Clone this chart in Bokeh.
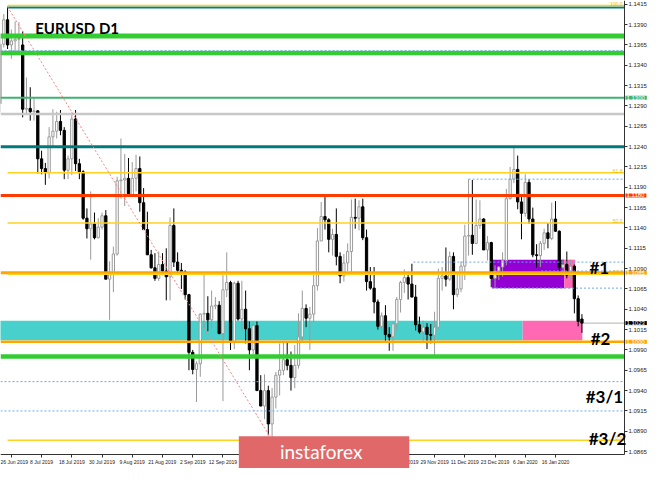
import numpy as np
from bokeh.plotting import figure
from bokeh.models import (Range1d, FixedTicker, PrintfTickFormatter, Label, ColumnDataSource,
                          BoxAnnotation)
from bokeh.embed import file_html
from bokeh.resources import INLINE

# ---------------- data ----------------
# daily bars, first bar = 21 Jun 2019 (bar index -3), bar 0 = 26 Jun 2019, last = 27 Jan 2020
opens = [
    1.1293, 1.1366, 1.1396,
    1.1365, 1.1370, 1.1372, 1.1365, 1.1286, 1.1287, 1.1283, 1.1284,
    1.1225, 1.1213, 1.1208, 1.1252, 1.1259,
    1.1271, 1.1260, 1.1211, 1.1225, 1.1274,
    1.1219, 1.1209, 1.1152, 1.1139, 1.1145,
    1.1128, 1.1141, 1.1155, 1.1077, 1.1083,
    1.1108, 1.1198, 1.1199, 1.1201, 1.1180,
    1.1201, 1.1213, 1.1171, 1.1138, 1.1107,
    1.1091, 1.1078, 1.1095, 1.1087, 1.1080,
    1.1143, 1.1098, 1.1088, 1.1086, 1.1058,
    1.0987, 1.0966, 1.0973, 1.1034, 1.1035,
    1.1027, 1.1044, 1.1045, 1.1010, 1.1064,
    1.1073, 1.1000, 1.1072, 1.1028, 1.1040,
    1.1016, 1.0990, 1.1020, 1.0940, 1.0921,
    1.0940, 1.0899, 1.0932, 1.0959, 1.0965,
    1.0978, 1.0971, 1.0956, 1.0971, 1.1006,
    1.1041, 1.1029, 1.1034, 1.1069, 1.1124,
    1.1154, 1.1150, 1.1126, 1.1132, 1.1105,
    1.1081, 1.1097, 1.1111, 1.1153, 1.1152,
    1.1166, 1.1128, 1.1074, 1.1066, 1.1049,
    1.1019, 1.1032, 1.1009, 1.1006, 1.1022,
    1.1052, 1.1073, 1.1079, 1.1071, 1.1055,
    1.1021, 1.1012, 1.1018, 1.1009, 1.1008,
    1.1018, 1.1078, 1.1081, 1.1077, 1.1105,
    1.1058, 1.1065, 1.1093, 1.1130, 1.1131,
    1.1121, 1.1143, 1.1151, 1.1113, 1.1122,
    1.1078, 1.1087, 1.1092, 1.1100,
    1.1176, 1.1200, 1.1212, 1.1172,
    1.1158, 1.1196, 1.1151, 1.1107, 1.1106,
    1.1121, 1.1134, 1.1127, 1.1151, 1.1136,
    1.1091, 1.1095, 1.1082, 1.1093, 1.1053,
    1.1028,
]
highs = [
    1.1379, 1.1403, 1.1412,
    1.1384, 1.1394, 1.1393, 1.1382, 1.1325, 1.1313, 1.1300, 1.1285,
    1.1235, 1.1220, 1.1264, 1.1286, 1.1283,
    1.1285, 1.1264, 1.1229, 1.1282, 1.1285,
    1.1225, 1.1211, 1.1164, 1.1185, 1.1159,
    1.1152, 1.1159, 1.1162, 1.1099, 1.1117,
    1.1203, 1.1250, 1.1231, 1.1226, 1.1221,
    1.1230, 1.1228, 1.1189, 1.1160, 1.1113,
    1.1109, 1.1111, 1.1109, 1.1115, 1.1153,
    1.1164, 1.1110, 1.1097, 1.1088, 1.1059,
    1.0990, 1.0976, 1.1035, 1.1085, 1.1056,
    1.1063, 1.1055, 1.1050, 1.1087, 1.1110,
    1.1075, 1.1074, 1.1075, 1.1075, 1.1063,
    1.1025, 1.1024, 1.1025, 1.0959, 1.0960,
    1.0946, 1.0943, 1.0963, 1.0998, 1.0999,
    1.0999, 1.0988, 1.0996, 1.1035, 1.1063,
    1.1046, 1.1043, 1.1087, 1.1140, 1.1172,
    1.1179, 1.1152, 1.1139, 1.1164, 1.1110,
    1.1108, 1.1121, 1.1175, 1.1176, 1.1174,
    1.1176, 1.1138, 1.1092, 1.1092, 1.1052,
    1.1036, 1.1045, 1.1018, 1.1024, 1.1055,
    1.1075, 1.1089, 1.1083, 1.1096, 1.1070,
    1.1031, 1.1026, 1.1023, 1.1022, 1.1037,
    1.1090, 1.1092, 1.1116, 1.1111, 1.1110,
    1.1083, 1.1099, 1.1144, 1.1200, 1.1199,
    1.1175, 1.1174, 1.1152, 1.1130, 1.1123,
    1.1094, 1.1093, 1.1110, 1.1188,
    1.1215, 1.1239, 1.1229, 1.1178,
    1.1206, 1.1200, 1.1165, 1.1120, 1.1124,
    1.1139, 1.1146, 1.1171, 1.1173, 1.1137,
    1.1102, 1.1111, 1.1101, 1.1095, 1.1057,
    1.1034,
]
lows = [
    1.1282, 1.1362, 1.1360,
    1.1348, 1.1356, 1.1355, 1.1276, 1.1281, 1.1272, 1.1272, 1.1207,
    1.1206, 1.1193, 1.1201, 1.1239, 1.1250,
    1.1254, 1.1200, 1.1200, 1.1205, 1.1210,
    1.1200, 1.1150, 1.1127, 1.1101, 1.1126,
    1.1127, 1.1138, 1.1078, 1.1027, 1.1061,
    1.1106, 1.1176, 1.1167, 1.1183, 1.1180,
    1.1185, 1.1160, 1.1138, 1.1107, 1.1090,
    1.1075, 1.1075, 1.1082, 1.1051, 1.1051,
    1.1092, 1.1082, 1.1065, 1.1052, 1.0965,
    1.0960, 1.0926, 1.0957, 1.1016, 1.1013,
    1.1016, 1.1040, 1.1010, 1.0927, 1.1055,
    1.0990, 1.0991, 1.1026, 1.1014, 1.0998,
    1.0965, 1.0983, 1.0940, 1.0921, 1.0905,
    1.0885, 1.0879, 1.0918, 1.0934, 1.0959,
    1.0965, 1.0940, 1.0943, 1.0967, 1.1001,
    1.1018, 1.0990, 1.1024, 1.1063, 1.1124,
    1.1138, 1.1110, 1.1106, 1.1094, 1.1072,
    1.1074, 1.1087, 1.1083, 1.1139, 1.1137,
    1.1125, 1.1063, 1.1064, 1.1035, 1.1015,
    1.1014, 1.1000, 1.0989, 1.0989, 1.1014,
    1.1036, 1.1060, 1.1052, 1.1055, 1.1014,
    1.1010, 1.0999, 1.0991, 1.0998, 1.0981,
    1.1015, 1.1063, 1.1068, 1.1075, 1.1040,
    1.1055, 1.1061, 1.1076, 1.1106, 1.1107,
    1.1120, 1.1139, 1.1113, 1.1100, 1.1067,
    1.1066, 1.1076, 1.1080, 1.1094,
    1.1175, 1.1195, 1.1163, 1.1126,
    1.1154, 1.1145, 1.1104, 1.1091, 1.1092,
    1.1113, 1.1115, 1.1125, 1.1135, 1.1084,
    1.1086, 1.1078, 1.1077, 1.1035, 1.1019,
    1.1011,
]
closes = [
    1.1366, 1.1396, 1.1365,
    1.1370, 1.1372, 1.1373, 1.1286, 1.1287, 1.1283, 1.1284, 1.1225,
    1.1213, 1.1208, 1.1252, 1.1259, 1.1271,
    1.1260, 1.1211, 1.1225, 1.1274, 1.1219,
    1.1209, 1.1152, 1.1139, 1.1145, 1.1128,
    1.1141, 1.1155, 1.1077, 1.1083, 1.1108,
    1.1198, 1.1199, 1.1201, 1.1180, 1.1201,
    1.1213, 1.1171, 1.1138, 1.1107, 1.1091,
    1.1078, 1.1095, 1.1087, 1.1080, 1.1143,
    1.1098, 1.1088, 1.1086, 1.1058, 1.0987,
    1.0966, 1.0973, 1.1034, 1.1035, 1.1027,
    1.1044, 1.1045, 1.1010, 1.1064, 1.1073,
    1.1000, 1.1072, 1.1028, 1.1040, 1.1016,
    1.0990, 1.1020, 1.0940, 1.0921, 1.0940,
    1.0899, 1.0932, 1.0959, 1.0965, 1.0978,
    1.0971, 1.0956, 1.0971, 1.1006, 1.1041,
    1.1029, 1.1034, 1.1069, 1.1124, 1.1154,
    1.1150, 1.1126, 1.1132, 1.1105, 1.1081,
    1.1097, 1.1111, 1.1153, 1.1152, 1.1166,
    1.1128, 1.1074, 1.1066, 1.1049, 1.1019,
    1.1032, 1.1009, 1.1006, 1.1022, 1.1052,
    1.1073, 1.1079, 1.1071, 1.1055, 1.1021,
    1.1012, 1.1018, 1.1009, 1.1008, 1.1018,
    1.1078, 1.1081, 1.1077, 1.1105, 1.1058,
    1.1065, 1.1093, 1.1130, 1.1131, 1.1121,
    1.1143, 1.1151, 1.1113, 1.1122, 1.1078,
    1.1087, 1.1092, 1.1100, 1.1176,
    1.1200, 1.1212, 1.1172, 1.1158,
    1.1196, 1.1151, 1.1107, 1.1106, 1.1121,
    1.1134, 1.1127, 1.1151, 1.1136, 1.1091,
    1.1095, 1.1082, 1.1093, 1.1053, 1.1025,
    1.1023,
]
first_bar = -3

date_ticks = [0, 8, 16, 24, 32, 40, 48, 56, 64, 72, 80, 88, 96, 104, 112, 120, 128, 136, 144]
date_labels = ["26 Jun 2019", "8 Jul 2019", "18 Jul 2019", "30 Jul 2019", "9 Aug 2019",
               "21 Aug 2019", "2 Sep 2019", "12 Sep 2019", "24 Sep 2019", "4 Oct 2019",
               "16 Oct 2019", "28 Oct 2019", "7 Nov 2019", "19 Nov 2019", "29 Nov 2019",
               "11 Dec 2019", "23 Dec 2019", "6 Jan 2020", "16 Jan 2020"]
price_ticks = [1.0865, 1.0890, 1.0915, 1.0940, 1.0965, 1.0990, 1.1015, 1.1040, 1.1065,
               1.1090, 1.1115, 1.1140, 1.1165, 1.1190, 1.1215, 1.1240, 1.1265, 1.1290,
               1.1315, 1.1340, 1.1365, 1.1390, 1.1415]

# horizontal levels (solid)
level_price = [1.1411, 1.1376, 1.1355, 1.1300, 1.1280, 1.1240, 1.1180, 1.1085, 1.1000, 1.0982]
level_color = ["#008080", "#33cc33", "#33cc33", "#3cb371", "#c8c8c8", "#007a7a",
               "#ff3c00", "#ffa500", "#ffa500", "#33cc33"]
level_width = [2, 5, 4.5, 2, 2.5, 3, 3, 3, 2.5, 4.5]
level_start = [-1, None, None, None, None, None, None, None, None, None]

# dotted blue levels
dot_price = [1.1358, 1.1200, 1.1098, 1.1087, 1.1066, 1.0951, 1.0915]
dot_start = [None, 121, 106.4, 140.2, 127.2, None, None]

# fibonacci retracement (high 25 Jun -> low 1 Oct)
fib_price = [1.14135, 1.1208, 1.1146, 1.1083, 1.0879]
fib_text = ["100.0", "61.8", "50.0", "38.2", "0.0"]
fib_anchor = (-1, 1.1412, 69, 1.0879)

# zones (rectangles)
zone_left = [None, 135.3, 127.2, 146.3]
zone_right = [135.3, 151.1, 146.3, 149.2]
zone_bottom = [1.1002, 1.1002, 1.1066, 1.1066]
zone_top = [1.1026, 1.1026, 1.1101, 1.1101]
zone_color = ["#48d1cc", "#ff69b4", "#9400d3", "#ff69b4"]

# price tags on the axis
tag_price = [1.1300, 1.1180, 1.1085, 1.1023, 1.1000]
tag_color = ["#3cb371", "#ff3c00", "#ffa500", "#000000", "#ffa500"]

# zone marks
mark_text = ["#1", "#2", "#3/1", "#3/2"]
mark_x = [153.0, 153.3, 152.0, 152.8]
mark_y = [1.1091, 1.10046, 1.09324, 1.08815]

# ---------------- figure ----------------
# the frame fills the whole canvas; both axes sit at fixed locations inside it
x_lo, x_right = -2.87, 168.88          # canvas left / right edge in bar units
y_bot, y_top = 1.08442, 1.14197        # canvas bottom / top edge in price
axis_x = 162.26                        # price scale position (bar units)
axis_y = 1.08614                       # time scale position (price)

p = figure(width=649, height=468, output_backend="svg", toolbar_location=None, tools="",
           x_range=Range1d(x_lo, x_right), y_range=Range1d(y_bot, y_top),
           y_axis_location="right", min_border=0)
p.grid.visible = False
p.outline_line_color = None
p.background_fill_color = "white"
p.border_fill_color = "white"

ya = p.yaxis[0]
ya.fixed_location = axis_x
ya.bounds = (axis_y, y_top)
ya.ticker = FixedTicker(ticks=price_ticks)
ya.formatter = PrintfTickFormatter(format="%.4f")
ya.major_label_text_font = "Liberation Sans"
ya.major_label_text_font_size = "6px"
ya.major_label_text_color = "#222222"
ya.major_tick_out = 3
ya.major_tick_in = 0
ya.minor_tick_out = 0
ya.minor_tick_in = 0
ya.major_label_standoff = 1
ya.axis_line_color = "#333333"
ya.major_tick_line_color = "#333333"

xa = p.xaxis[0]
xa.fixed_location = axis_y
xa.bounds = (x_lo, axis_x)
xa.ticker = FixedTicker(ticks=date_ticks)
xa.major_label_overrides = {t: s for t, s in zip(date_ticks, date_labels)}
xa.major_label_text_align = "left"
xa.major_label_text_font = "Liberation Sans"
xa.major_label_text_font_size = "5px"
xa.major_label_text_color = "#222222"
xa.major_tick_out = 3
xa.major_tick_in = 0
xa.minor_tick_out = 0
xa.minor_tick_in = 0
xa.major_label_standoff = 1
xa.axis_line_color = "#333333"
xa.major_tick_line_color = "#333333"

# zones
zl = [x_lo - 1 if v is None else v for v in zone_left]
p.quad(left=zl, right=zone_right, bottom=zone_bottom, top=zone_top,
       fill_color=zone_color, line_color=None)

# bid line
p.segment(x0=[len(opens) + first_bar - 1], y0=[closes[-1]], x1=[axis_x], y1=[closes[-1]],
          line_color="#b0b0b0", line_width=1)

# candles
o = np.array(opens); h = np.array(highs); l = np.array(lows); c = np.array(closes)
xi = np.arange(len(o)) + first_bar
up = c >= o
dn = ~up
src_up = ColumnDataSource(dict(x=xi[up], top=c[up], bottom=o[up], high=h[up], low=l[up]))
src_dn = ColumnDataSource(dict(x=xi[dn], top=o[dn], bottom=c[dn], high=h[dn], low=l[dn]))
p.segment(x0="x", y0="high", x1="x", y1="low", source=src_up, line_color="#9a9a9a", line_width=1)
p.vbar(x="x", width=0.6, top="top", bottom="bottom", source=src_up,
       fill_color="white", line_color="#9a9a9a", line_width=1)
p.segment(x0="x", y0="high", x1="x", y1="low", source=src_dn, line_color="black", line_width=1)
p.vbar(x="x", width=0.6, top="top", bottom="bottom", source=src_dn,
       fill_color="black", line_color="black", line_width=1)

# solid levels
ls = [x_lo if v is None else v for v in level_start]
p.segment(x0=ls, y0=level_price, x1=[axis_x] * len(level_price), y1=level_price,
          line_color=level_color, line_width=level_width)

# fibonacci lines
p.segment(x0=[fib_anchor[0]] * len(fib_price), y0=fib_price, x1=[axis_x] * len(fib_price),
          y1=fib_price, line_color="#ffd21f", line_width=1.5)
p.segment(x0=[fib_anchor[0]], y0=[fib_anchor[1]], x1=[fib_anchor[2]], y1=[fib_anchor[3]],
          line_color="#ff7f7f", line_width=1, line_dash="2 2")

# dotted blue lines
ds = [x_lo if v is None else v for v in dot_start]
p.segment(x0=ds, y0=dot_price, x1=[axis_x] * len(dot_price), y1=dot_price,
          line_color="#6fa8ef", line_width=1, line_dash="2 2")

# fib labels
for fp, ft in zip(fib_price, fib_text):
    p.add_layout(Label(x=axis_x, y=fp, text=ft, x_offset=-2, text_align="right",
                       text_baseline="bottom", text_font="Liberation Sans",
                       text_font_size="5px", text_color="#e8c000"))

# title
p.add_layout(Label(x=6.3, y=1.13854, text="EURUSD D1", text_font="Lato",
                   text_font_style="bold", text_font_size="15px", text_color="black",
                   text_baseline="alphabetic"))

# zone marks
for t, mx, my in zip(mark_text, mark_x, mark_y):
    p.add_layout(Label(x=mx, y=my, text=t, text_font="Lato", text_font_style="bold",
                       text_font_size="17px", text_color="black", text_baseline="alphabetic"))

# price tags on the price scale
for tp, tc in zip(tag_price, tag_color):
    p.add_layout(Label(x=axis_x, y=tp, text="%.4f" % tp, x_offset=1, text_align="left",
                       text_baseline="middle", text_font="Liberation Sans",
                       text_font_size="6px", text_color="white",
                       background_fill_color=tc,
                       padding=dict(left=1, right=2, top=0, bottom=0)))

# watermark logo
p.add_layout(BoxAnnotation(left=60.2, right=105.3, top=1.08839, bottom=y_bot - 0.001,
                           fill_color="#e06868", fill_alpha=1.0, line_color=None))
p.add_layout(Label(x=82.0, y=1.0865, text="instaforex", text_align="center",
                   text_baseline="middle", text_font="Lato", text_font_size="19px",
                   text_color="white"))

open("out.html", "w").write(file_html(p, INLINE))
